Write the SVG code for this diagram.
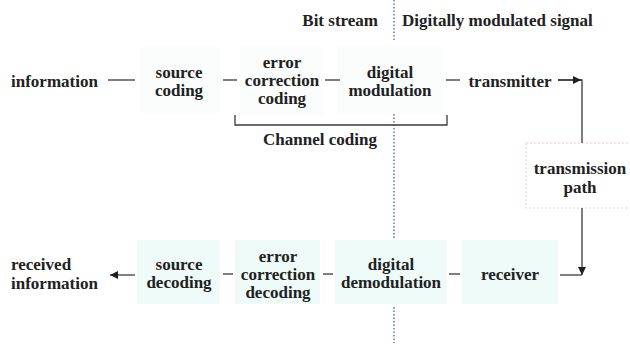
<svg xmlns="http://www.w3.org/2000/svg" width="630" height="349" viewBox="0 0 630 349">
<style>
text{font-family:"Liberation Serif","Times New Roman",serif;font-weight:bold;font-size:17px;fill:#1e2222}
.c{text-anchor:middle}
.top{fill:#fbfcfc}
.bot{fill:#effbf9}
.ln{stroke:#3a3a3a;stroke-width:1.3;fill:none}
.dot{stroke:#5a78c0;stroke-width:1.5;stroke-dasharray:1.5 2;fill:none}
</style>
<defs>
<marker id="ah" markerWidth="10" markerHeight="10" refX="8" refY="4" orient="auto" markerUnits="userSpaceOnUse">
<path d="M0,0 L8,4 L0,8 Z" fill="#1e1e1e"/>
</marker>
</defs>
<rect width="630" height="349" fill="#fff"/>
<g id="divider">
<line class="dot" x1="394" y1="0" x2="394" y2="42"/>
<line class="dot" x1="394" y1="114" x2="394" y2="238"/>
<line class="dot" x1="394" y1="307" x2="394" y2="343"/>
</g>
<g id="headers">
<text x="378" y="26" text-anchor="end">Bit stream</text>
<text x="402" y="26">Digitally modulated signal</text>
</g>
<g id="information"><text x="11" y="87">information</text></g>
<g id="source-coding"><rect class="top" x="140" y="47" width="80" height="66"/><text class="c" x="179" y="78">source</text><text class="c" x="179" y="96">coding</text></g>
<g id="error-correction-coding"><rect class="top" x="240" y="47" width="82" height="68"/><text class="c" x="282" y="68">error</text><text class="c" x="282" y="86">correction</text><text class="c" x="282" y="104">coding</text></g>
<g id="digital-modulation"><rect class="top" x="337" y="47" width="104" height="66"/><text class="c" x="390" y="78">digital</text><text class="c" x="390" y="96">modulation</text></g>
<g id="transmitter"><text class="c" x="510" y="87">transmitter</text></g>
<g id="transmission-path"><rect x="526" y="143" width="110" height="65" fill="#fff" stroke="#e8b8bc" stroke-width="1" stroke-dasharray="1.5 2.5"/><text class="c" x="580" y="174">transmission</text><text class="c" x="580" y="193">path</text></g>
<g id="receiver"><rect class="bot" x="462" y="240" width="96" height="64"/><text class="c" x="510" y="280">receiver</text></g>
<g id="digital-demodulation"><rect class="bot" x="335" y="240" width="112" height="64"/><text class="c" x="391" y="270">digital</text><text class="c" x="391" y="288">demodulation</text></g>
<g id="error-correction-decoding"><rect class="bot" x="235" y="240" width="85" height="64"/><text class="c" x="278" y="262">error</text><text class="c" x="278" y="280">correction</text><text class="c" x="278" y="298">decoding</text></g>
<g id="source-decoding"><rect class="bot" x="137" y="240" width="83" height="64"/><text class="c" x="179" y="270">source</text><text class="c" x="179" y="288">decoding</text></g>
<g id="received-information"><text x="11" y="270">received</text><text x="11" y="289">information</text></g>
<g id="channel-coding"><text class="c" x="320" y="145">Channel coding</text></g>
<g id="connectors">
<line class="ln" x1="108" y1="80" x2="135" y2="80"/>
<line class="ln" x1="223" y1="80" x2="237" y2="80"/>
<line class="ln" x1="325" y1="80" x2="340" y2="80"/>
<line class="ln" x1="446" y1="80" x2="460" y2="80"/>
<polyline class="ln" points="558,80 582,80 582,143"/>
<line class="ln" x1="558" y1="80" x2="581" y2="80" marker-end="url(#ah)"/>
<line class="ln" x1="582" y1="208" x2="582" y2="275" marker-end="url(#ah)"/>
<line class="ln" x1="560" y1="275" x2="582" y2="275"/>
<line class="ln" x1="449" y1="274" x2="460" y2="274"/>
<line class="ln" x1="323" y1="274" x2="333" y2="274"/>
<line class="ln" x1="223" y1="274" x2="233" y2="274"/>
<line class="ln" x1="135" y1="275" x2="110" y2="275" marker-end="url(#ah)"/>
<polyline class="ln" points="235,115 235,125 447,125 447,115"/>
</g>
</svg>
